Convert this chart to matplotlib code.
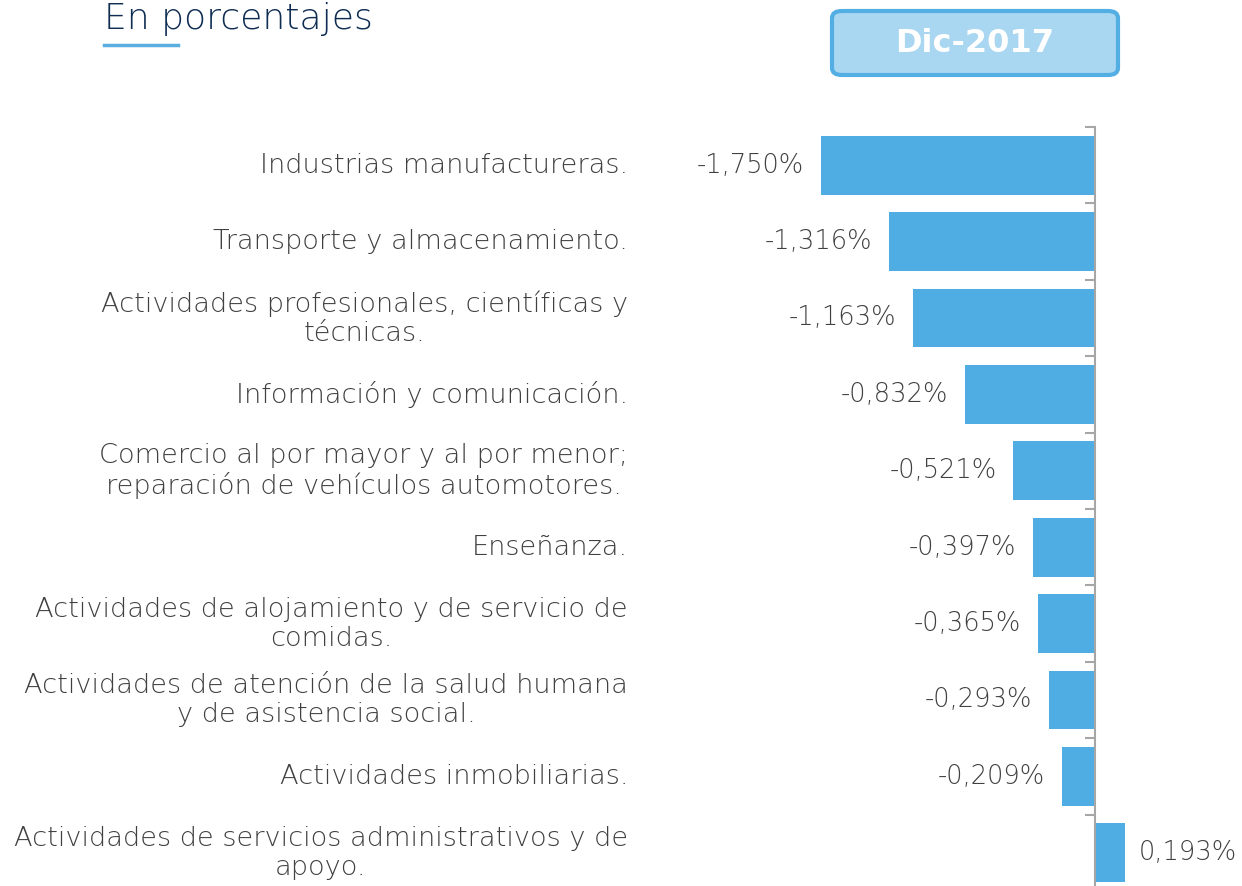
import matplotlib
matplotlib.use("Agg")
import matplotlib.pyplot as plt
from matplotlib.patches import FancyBboxPatch
from matplotlib import transforms
from matplotlib.lines import Line2D

categories = [
    "Industrias manufactureras.",
    "Transporte y almacenamiento.",
    "Actividades profesionales, científicas y\ntécnicas.",
    "Información y comunicación.",
    "Comercio al por mayor y al por menor;\nreparación de vehículos automotores.",
    "Enseñanza.",
    "Actividades de alojamiento y de servicio de\ncomidas.",
    "Actividades de atención de la salud humana\ny de asistencia social.",
    "Actividades inmobiliarias.",
    "Actividades de servicios administrativos y de\napoyo.",
]
values = [-1.750, -1.316, -1.163, -0.832, -0.521, -0.397, -0.365, -0.293, -0.209, 0.193]
title = "En porcentajes"
period = "Dic-2017"

W, H = 1242, 886
FONT = "DejaVu Sans"
GRAY = "#404040"
BAR = "#4FADE3"

fig = plt.figure(figsize=(W / 100, H / 100), dpi=100)

# axes placement in pixels
x0_px, x1_px = 700, 1160
top_px, bot_px = 127, 891
ax = fig.add_axes([x0_px / W, 1 - bot_px / H, (x1_px - x0_px) / W, (bot_px - top_px) / H])

n = len(values)
ypos = list(range(n))
ax.barh(ypos, values, height=0.77, color=BAR, zorder=2)

zero_px = 1095
scale = (zero_px - 821) / 1.75
ax.set_xlim((x0_px - zero_px) / scale, (x1_px - zero_px) / scale)
ax.set_ylim(n - 0.5, -0.5)

for s in ["top", "right", "bottom"]:
    ax.spines[s].set_visible(False)
ax.spines["left"].set_position(("data", 0))
ax.spines["left"].set_color("#A6A6A6")
ax.spines["left"].set_linewidth(1.5)
ax.spines["left"].set_zorder(3)
ax.set_xticks([])
ax.set_yticks([])
ax.set_yticks([i - 0.5 for i in range(n + 1)], minor=True)
ax.tick_params(axis="y", which="minor", length=7, width=1.5, color="#A6A6A6", direction="out")
ax.patch.set_alpha(0)

# value labels
for i, v in enumerate(values):
    txt = f"{v:.3f}".replace(".", ",") + "%"
    if v < 0:
        ax.annotate(txt, (v, i), xytext=(-17, 0), textcoords="offset pixels",
                    ha="right", va="center", fontsize=18.5, color=GRAY, family=FONT,
                    fontweight="light")
    else:
        ax.annotate(txt, (v, i), xytext=(14, 0), textcoords="offset pixels",
                    ha="left", va="center", fontsize=18.5, color=GRAY, family=FONT,
                    fontweight="light")

# category labels
tr = transforms.blended_transform_factory(fig.transFigure, ax.transData)
for i, c in enumerate(categories):
    ax.text(628 / W, i, c, transform=tr, ha="right", va="center", multialignment="center",
            fontsize=19.6, color=GRAY, family=FONT, linespacing=1.2, fontweight="light")

# title
fig.text(104 / W, 1 - 19 / H, title, ha="left", va="center", fontsize=26,
         color="#0F2D52", family=FONT, fontweight="light")
fig.add_artist(Line2D([104 / W, 178 / W], [1 - 45 / H, 1 - 45 / H], color="#5AAFE0",
                      linewidth=2.5, transform=fig.transFigure))

# period box
bx0, by0, bx1, by1 = 832, 11, 1118, 75
box = FancyBboxPatch((bx0 / W, 1 - by1 / H), (bx1 - bx0) / W, (by1 - by0) / H,
                     boxstyle="round,pad=0,rounding_size=0.008", transform=fig.transFigure,
                     facecolor="#A9D6F0", edgecolor="#52AEE3", linewidth=3)
fig.add_artist(box)
fig.text((bx0 + bx1) / 2 / W, 1 - 44 / H, period, ha="center", va="center", fontsize=23,
         fontweight="bold", color="white", family=FONT)

fig.savefig("out.png", dpi=100)
